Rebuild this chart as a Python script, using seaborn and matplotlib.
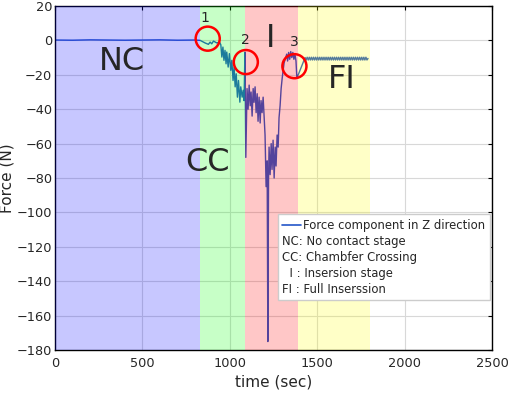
import pandas as pd
import matplotlib
matplotlib.use('Agg')
import matplotlib.pyplot as plt
import seaborn as sns
from matplotlib.lines import Line2D

# time (sec) and force (N)
time = [0, 100, 200, 300, 400, 500, 600, 700, 800, 830,
        858, 877, 887, 896, 906, 925, 940, 948,
        954, 960, 966, 972, 978, 982, 990, 997, 1005, 1011, 1018, 1024, 1030, 1036,
        1043, 1049, 1057, 1062, 1070, 1076, 1081, 1086, 1088,
        1091, 1098, 1104, 1110, 1116, 1121, 1127, 1133, 1138, 1144, 1150, 1156, 1161,
        1167, 1173, 1178, 1184, 1190, 1196, 1201, 1207, 1213, 1217, 1221, 1224, 1230,
        1236, 1241, 1247, 1253, 1259, 1264, 1270, 1276, 1281, 1287, 1293, 1299, 1304,
        1310, 1316, 1325, 1330, 1336, 1342, 1348, 1354, 1360, 1366, 1372, 1378, 1383,
        1430, 1436, 1442, 1448, 1454, 1460, 1466, 1472, 1478, 1484, 1490, 1496, 1502,
        1508, 1514, 1520, 1526, 1532, 1538, 1544, 1550, 1556, 1562, 1568, 1574, 1580,
        1586, 1592, 1598, 1604, 1610, 1616, 1622, 1628, 1634, 1640, 1646, 1652, 1658,
        1664, 1670, 1676, 1682, 1688, 1694, 1700, 1706, 1712, 1718, 1724, 1730, 1736,
        1742, 1748, 1754, 1760, 1766, 1772, 1778, 1784, 1790]
force = [0.2, 0.1, 0.3, 0.2, 0.1, 0.2, 0.3, 0.1, 0.2, 0.0,
         -1.5, -2.3, -1.0, -2.0, -0.4, -1.5, -1.0, -2.5,
         -9.7, -3.9, -11.6, -5.8, -13.6, -6.8, -15.5, -7.7, -17.4, -11.6, -23.3, -15.5, -27, -19.4,
         -33, -23.3, -35.9, -27, -33, -29, -35, -6.8, -33,
         -68, -28, -40, -26, -38, -30, -44, -28, -36, -27, -42, -31, -47,
         -33, -48, -35, -42, -33, -45, -55, -85, -70, -175, -80, -62, -78,
         -60, -75, -58, -80, -62, -73, -55, -62, -45, -38, -28, -22, -18,
         -13, -11, -8, -12, -7, -11, -6.5, -10, -7, -11, -8, -12, -22,
         -10, -11.4, -9.8, -11.4, -9.8, -11.4, -9.8, -11.4, -9.8, -11.4, -9.8, -11.4, -9.8,
         -11.4, -9.8, -11.4, -9.8, -11.4, -9.8, -11.4, -9.8, -11.4, -9.8, -11.4, -9.8, -11.4,
         -9.8, -11.4, -9.8, -11.4, -9.8, -11.4, -9.8, -11.4, -9.8, -11.4, -9.8, -11.4, -9.8,
         -11.4, -9.8, -11.4, -9.8, -11.4, -9.8, -11.4, -9.8, -11.4, -9.8, -11.4, -9.8, -11.4,
         -9.8, -11.4, -9.8, -11.4, -9.8, -11.4, -9.8, -11.4, -10.5]

# stage boundaries (sec) and colours
stage_start = [0, 830, 1087, 1390]
stage_end = [830, 1087, 1390, 1800]
stage_colors = ['blue', 'lime', 'red', 'yellow']
stage_names = ['NC', 'CC', 'I', 'FI']
stage_label_t = [383, 870, 1230, 1642]
stage_label_f = [-12.5, -71, 1, -23]

# marked points
circle_t = [873, 1091, 1369]
circle_f = [1.0, -12.6, -15]
number_t = [859, 1087, 1367]
number_f = [12.8, 0.0, -1.2]

legend_labels = ['Force component in Z direction', 'NC: No contact stage',
                 'CC: Chambfer Crossing', '  I : Insersion stage', 'FI : Full Inserssion']

df = pd.DataFrame({'time': time, 'force': force})

sns.set_style('white')
plt.rcParams['font.family'] = ['DejaVu Sans']

fig = plt.figure(figsize=(5.1, 3.97), dpi=100)
ax = fig.add_axes([0.108, 0.118, 0.857, 0.867])

sns.lineplot(data=df, x='time', y='force', ax=ax, color='#2456c8', linewidth=1.0,
             estimator=None, sort=False, zorder=2)

for s, e, c in zip(stage_start, stage_end, stage_colors):
    ax.axvspan(s, e, color=c, alpha=0.22, lw=0, zorder=3)

ax.scatter(circle_t, circle_f, s=300, facecolors='none', edgecolors='red',
           linewidths=1.8, zorder=5)
for i, (t, f) in enumerate(zip(number_t, number_f)):
    ax.text(t, f, str(i + 1), fontsize=10, ha='center', va='center', zorder=6)
for name, t, f in zip(stage_names, stage_label_t, stage_label_f):
    ax.text(t, f, name, fontsize=23, ha='center', va='center', zorder=6)

ax.set_xlim(0, 2500)
ax.set_ylim(-180, 20)
ax.set_xticks(range(0, 2501, 500))
ax.set_yticks(range(-180, 21, 20))
ax.grid(True, color='#d8d8d8', linewidth=0.8, zorder=1)
ax.set_axisbelow(True)
ax.tick_params(direction='in', top=True, right=True, length=3, labelsize=9.3,
               color='black')
ax.tick_params(axis='y', pad=2)
ax.tick_params(axis='x', pad=5)
for sp in ax.spines.values():
    sp.set_color('black')
    sp.set_linewidth(1.0)
ax.set_xlabel('time (sec)', fontsize=11, labelpad=3)
ax.set_ylabel('Force (N)', fontsize=11, labelpad=2)

handles = [Line2D([], [], color='#2456c8', lw=1.2)] + [Line2D([], [], alpha=0)] * 4
leg = ax.legend(handles=handles, labels=legend_labels, loc='lower right',
                bbox_to_anchor=(0.995, 0.145), borderaxespad=0, fontsize=8.4,
                fancybox=False, framealpha=1, edgecolor='#cccccc',
                handlelength=1.6, handletextpad=0.2, labelspacing=0.25,
                borderpad=0.4)
leg.set_zorder(7)
# drop the empty handles so the plain text lines start at the left edge
for hp in leg._legend_handle_box.get_children()[0].get_children()[1:]:
    hp._children = hp._children[1:]

fig.savefig('out.png', dpi=100)
